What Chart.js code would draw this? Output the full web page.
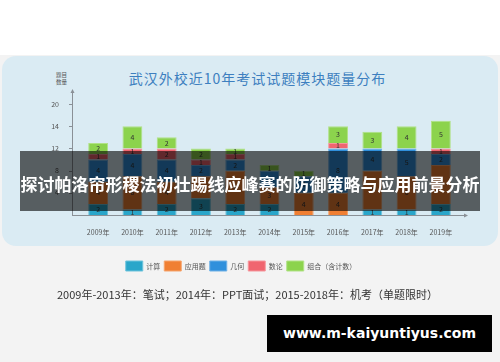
<!DOCTYPE html>
<html>
<head>
<meta charset="utf-8">
<script src="https://cdn.jsdelivr.net/npm/chart.js@4.4.1/dist/chart.umd.min.js"></script>
<style>
  html, body { margin: 0; padding: 0; }
  body { width: 500px; height: 362px; position: relative; overflow: hidden;
         background: linear-gradient(#ffffff 0, #ffffff 55px, #f3f3f3 55px); font-family: "Noto Sans CJK SC", sans-serif; }
  #panel { position: absolute; left: 2px; top: 56px; width: 496px; height: 190px;
           background: #daebf3; border-radius: 14px; }
  #title { position: absolute; left: 0; width: 515px; top: 68px; text-align: center;
           font-size: 14px; letter-spacing: 1px; color: #3d7fbf; }
  #ytitle { position: absolute; left: 56px; top: 72px; font-size: 5.5px; line-height: 7px; color: #555; }
  #chart { position: absolute; left: 0; top: 0; }
  #note { position: absolute; left: 57px; top: 286px; font-size: 11px; color: #333; white-space: nowrap; }
  #banner { position: absolute; left: 20px; top: 151px; width: 460px; height: 60px;
            background: rgba(0,0,0,0.6); color: #fff; font-weight: bold; font-size: 17px;
            text-align: center; line-height: 66px; white-space: nowrap; }
  #mark { position: absolute; left: 267px; top: 315px; width: 225px; height: 37px; background: #000;
          color: #fff; font-family: "DejaVu Sans", sans-serif; font-weight: bold; font-size: 14px;
          line-height: 37px; text-align: center; }
</style>
</head>
<body>
<div id="panel"></div>
<div id="title">武汉外校近10年考试试题模块题量分布</div>
<div id="ytitle">题目<br>数量</div>
<canvas id="chart" width="500" height="362"></canvas>
<div id="note">2009年-2013年：笔试；2014年：PPT面试；2015-2018年：机考（单题限时）</div>
<div id="banner">探讨帕洛帘形稷法初壮踢线应峰赛的防御策略与应用前景分析</div>
<div id="mark">www.m-kaiyuntiyus.com</div>
<script>
// ── Data ───────────────────────────────────────────────────────────────────
const years = ["2009年","2010年","2011年","2012年","2013年","2014年","2015年","2016年","2017年","2018年","2019年"];

const calc     = [2, 1, 2, 3, 2, 2, 0, 0, 1, 1, 2];   // 计算
const applied  = [4, 6, 4, 4, 6, 3, 4, 4, 7, 6, 7];   // 应用题
const geometry = [4, 4, 4, 2, 2, 3, 3, 8, 4, 5, 2];   // 几何
const numTheory= [1, 1, 2, 1, 1, 0, 0, 1, 0, 0, 1];   // 数论
const combo    = [2, 4, 2, 2, 1, 1, 1, 3, 3, 4, 5];   // 组合（含计数）

const yTickValues = [4, 8, 12, 16, 20];
const yTickLabels = ["4", "8", "12", "14", "20"];

// ── Plugins ────────────────────────────────────────────────────────────────

// segment value labels
const valueLabels = {
  id: "valueLabels",
  afterDatasetsDraw(chart) {
    const ctx = chart.ctx;
    ctx.save();
    ctx.font = "7px 'Noto Sans CJK SC', sans-serif";
    ctx.fillStyle = "#333";
    ctx.textAlign = "center";
    ctx.textBaseline = "middle";
    chart.data.datasets.forEach((ds, i) => {
      chart.getDatasetMeta(i).data.forEach((bar, j) => {
        const v = ds.data[j];
        if (!v) return;
        ctx.fillText(v, bar.x, (bar.y + bar.base) / 2);
      });
    });
    ctx.restore();
  }
};

// axis lines with arrows
const arrowAxes = {
  id: "arrowAxes",
  afterDatasetsDraw(chart) {
    const { ctx, chartArea: a, scales: { y } } = chart;
    const x0 = a.left - 9, y0 = a.bottom, xEnd = a.right + 7, yEnd = a.top - 1;
    ctx.save();
    ctx.strokeStyle = "#8a9096";
    ctx.fillStyle = "#8a9096";
    ctx.lineWidth = 1;
    ctx.beginPath();
    ctx.moveTo(x0 + 0.5, y0);
    ctx.lineTo(x0 + 0.5, yEnd);
    ctx.moveTo(x0, y0 + 0.5);
    ctx.lineTo(xEnd, y0 + 0.5);
    yTickValues.forEach(v => {
      const ty = Math.round(y.getPixelForValue(v)) + 0.5;
      ctx.moveTo(x0 - 3, ty);
      ctx.lineTo(x0, ty);
    });
    ctx.stroke();
    ctx.beginPath();
    ctx.moveTo(x0 + 0.5, yEnd - 3);
    ctx.lineTo(x0 - 1.5, yEnd + 1);
    ctx.lineTo(x0 + 2.5, yEnd + 1);
    ctx.fill();
    ctx.beginPath();
    ctx.moveTo(xEnd + 3, y0 + 0.5);
    ctx.lineTo(xEnd - 1, y0 - 1.5);
    ctx.lineTo(xEnd - 1, y0 + 2.5);
    ctx.fill();
    ctx.restore();
  }
};

// ── Chart ──────────────────────────────────────────────────────────────────

function mkSet(label, data, color, edge) {
  return { label, data, backgroundColor: color, borderColor: edge, borderWidth: 1,
           barPercentage: 0.58, categoryPercentage: 1 };
}

new Chart(document.getElementById("chart").getContext("2d"), {
  type: "bar",
  data: {
    labels: years,
    datasets: [
      mkSet("计算", calc, "#2aa6ca", "#6cc3dc"),
      mkSet("应用题", applied, "#f07f33", "#f5a46c"),
      mkSet("几何", geometry, "#3090dc", "#6fb1e6"),
      mkSet("数论", numTheory, "#f0656f", "#f5969c"),
      mkSet("组合（含计数）", combo, "#8cd34d", "#b0e285"),
    ],
  },
  options: {
    responsive: false,
    animation: false,
    layout: { padding: { left: 24, right: 42, top: 93, bottom: 81 } },
    plugins: {
      title: { display: false },
      tooltip: { enabled: false },
      legend: {
        position: "bottom",
        labels: {
          boxWidth: 17, boxHeight: 10, padding: 4, color: "#555",
          font: { size: 7, family: "'Noto Sans CJK SC', sans-serif" },
        },
      },
    },
    scales: {
      x: {
        stacked: true,
        grid: { display: false },
        border: { display: false },
        ticks: { color: "#555", padding: 5, maxRotation: 0, font: { size: 7, family: "'Noto Sans CJK SC', sans-serif" } },
        afterFit(s) { s.height = 42; },
      },
      y: {
        stacked: true,
        min: 0,
        max: 22,
        grid: { display: false },
        border: { display: false },
        afterBuildTicks(s) { s.ticks = yTickValues.map(v => ({ value: v })); },
        ticks: {
          color: "#555", padding: 14,
          font: { size: 7, family: "'Noto Sans CJK SC', sans-serif" },
          callback: v => yTickLabels[yTickValues.indexOf(v)] ?? "",
        },
        afterFit(s) { s.width = 57; },
      },
    },
  },
  plugins: [valueLabels, arrowAxes],
});
</script>
</body>
</html>
